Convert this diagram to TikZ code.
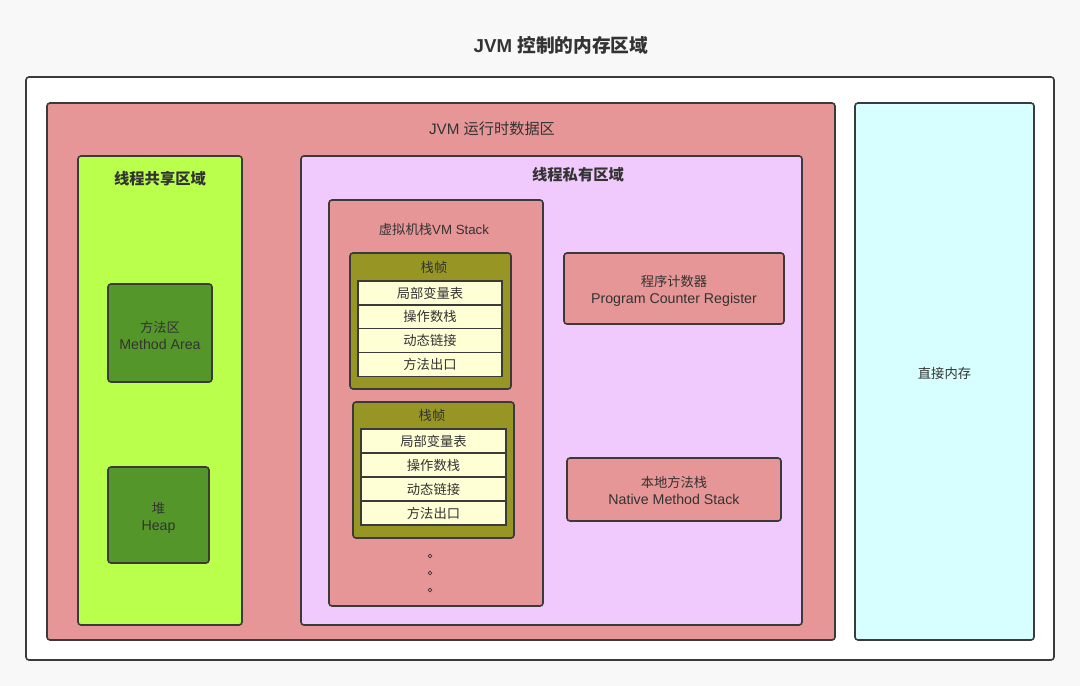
\documentclass[tikz,border=0pt]{standalone}
\usepackage{fontspec}
\setmainfont{Liberation Sans}
\newfontfamily\cjk{Noto Sans CJK SC}
\usepackage{xcolor}

\definecolor{pagebg}{HTML}{F8F8F8}
\definecolor{edgegray}{HTML}{3A3A3A}
\definecolor{textgray}{HTML}{333333}
\definecolor{runred}{HTML}{E69696}
\definecolor{sharegreen}{HTML}{BBFF4D}
\definecolor{areagreen}{HTML}{55962A}
\definecolor{privpurple}{HTML}{F0C9FD}
\definecolor{frameolive}{HTML}{979523}
\definecolor{rowcream}{HTML}{FFFFD6}
\definecolor{directcyan}{HTML}{D8FFFF}

\newcommand\zh[1]{{\fontsize{13.3}{17}\selectfont\cjk #1}}

\tikzset{
  region/.style={draw=edgegray, line width=1.6pt, rounded corners=3pt, inner sep=0pt},
  row/.style={draw=edgegray, line width=1.6pt, fill=rowcream, inner sep=0pt,
    minimum width=144pt, minimum height=24pt, text=textgray, font=\fontsize{13.3}{15}\selectfont\cjk},
  tag/.style={text=textgray, font=\fontsize{13.3}{15}\selectfont},
  boxtext/.style={text=textgray, align=center, inner sep=0pt, font=\fontsize{14.2}{17}\selectfont},
  headtag/.style={text=textgray, font=\fontsize{15.3}{17}\selectfont\cjk\bfseries},
}

\begin{document}
\begin{tikzpicture}[x=1pt, y=-1pt]
  % Hintergrund
  \fill[pagebg] (0,0) rectangle (1080,686);

  \node[text=textgray, font=\fontsize{18.7}{21}\selectfont\bfseries] (title) at (561,45) {JVM {\cjk 控制的内存区域}};

  % aeussere Boxen
  \node[region, fill=white, minimum width=1028pt, minimum height=583pt] (outer) at (540,368.5) {};
  \node[region, fill=runred, minimum width=788pt, minimum height=537pt] (runtime) at (441,371.5) {};
  \node[tag, font=\fontsize{15.2}{17}\selectfont] (runtimetag) at (492,129) {JVM {\cjk 运行时数据区}};
  \node[region, fill=directcyan, minimum width=179pt, minimum height=537pt] (direct) at (944.5,371.5) {};
  \node[boxtext, yshift=-2pt] (directtext) at (direct) {\zh{直接内存}};

  % Thread-shared
  \node[region, fill=sharegreen, minimum width=164pt, minimum height=469pt] (shared) at (160,390.5) {};
  \node[headtag] (sharedtag) at (160,178.5) {线程共享区域};
  \node[region, fill=areagreen, minimum width=104pt, minimum height=98pt] (method) at (160,333) {};
  \node[boxtext, yshift=-2pt] (methodtext) at (method) {\zh{方法区}\\Method Area};
  \node[region, fill=areagreen, minimum width=101pt, minimum height=96pt] (heap) at (158.5,515) {};
  \node[boxtext, yshift=-2.5pt] (heaptext) at (heap) {\zh{堆}\\Heap};

  % Thread-private
  \node[region, fill=privpurple, minimum width=501pt, minimum height=469pt] (private) at (551.5,390.5) {};
  \node[headtag] (privatetag) at (578,175) {线程私有区域};

  \node[region, fill=runred, minimum width=214pt, minimum height=406pt] (vmstack) at (436,403) {};
  \node[tag] (vmstacktag) at (434,229.5) {{\cjk 虚拟机栈}VM Stack};

  % Stack frames
  \node[region, fill=frameolive, minimum width=161pt, minimum height=136pt] (frameA) at (430.5,321) {};
  \node[tag, font=\fontsize{13.3}{15}\selectfont\cjk] (frameAtag) at (434,267.5) {栈帧};
  \node[region, fill=frameolive, minimum width=161pt, minimum height=136pt] (frameB) at (433.5,470) {};
  \node[tag, font=\fontsize{13.3}{15}\selectfont\cjk] (frameBtag) at (432,415) {栈帧};

  \foreach \txt [count=\i from 0] in {局部变量表,操作数栈,动态链接,方法出口} {
    \node[row] (rowA\i) at (430,293+23.8*\i) {\txt};
    \node[row, minimum width=145pt] (rowB\i) at (433.5,441+24*\i) {\txt};
  }

  % dots
  \foreach \yy [count=\k] in {556,573,590}
    \node[draw=edgegray, line width=0.7pt, circle, inner sep=0pt, minimum size=3.6pt] (dot\k) at (430,\yy) {};

  \node[region, fill=runred, minimum width=220pt, minimum height=71pt] (pcr) at (674,288.5) {};
  \node[boxtext, yshift=-2.5pt] (pcrtext) at (pcr) {\zh{程序计数器}\\Program Counter Register};
  \node[region, fill=runred, minimum width=214pt, minimum height=63pt] (native) at (674,489.5) {};
  \node[boxtext, yshift=-0.5pt] (nativetext) at (native) {\zh{本地方法栈}\\Native Method Stack};
\end{tikzpicture}
\end{document}
